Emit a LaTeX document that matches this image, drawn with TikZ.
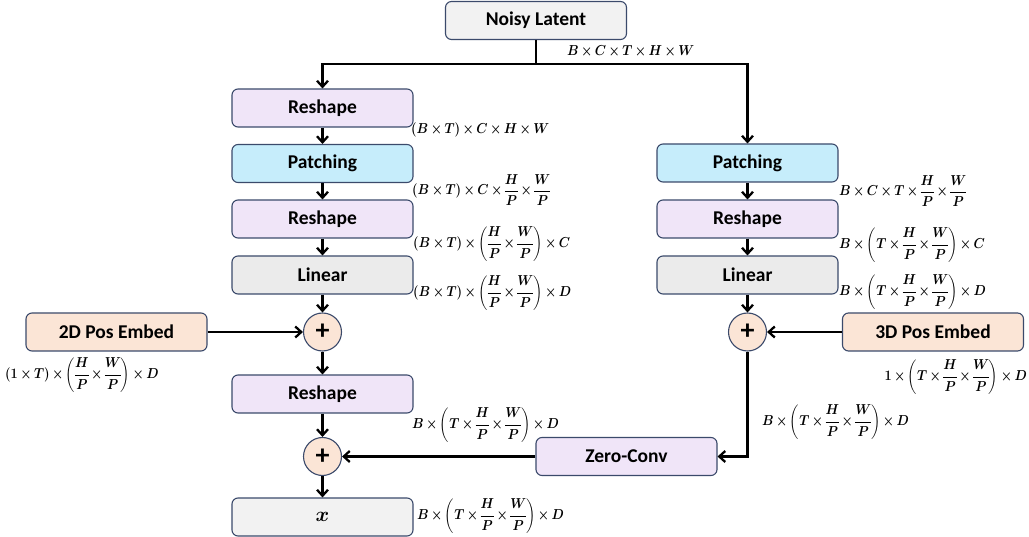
\documentclass[tikz,border=0pt]{standalone}
\usepackage{fontspec}
\setsansfont{Carlito}
\usepackage{amsmath}
\usepackage{graphicx}
\usetikzlibrary{arrows.meta}
\definecolor{bordc}{HTML}{3B4A6B}
\definecolor{lav}{HTML}{F0E5F8}
\definecolor{sky}{HTML}{C6EDFB}
\definecolor{lgray}{HTML}{EBEBEB}
\definecolor{vlgray}{HTML}{F2F2F2}
\definecolor{peach}{HTML}{FBE5D6}
\newcommand{\dimtxt}[1]{\scalebox{0.88}[1]{\medmuskip=3mu plus 1mu minus 1mu\nulldelimiterspace=0pt$#1$}}
\tikzset{
  blk/.style={draw=bordc, line width=1.1pt, rounded corners=6pt, minimum width=181pt, minimum height=38pt, inner sep=0pt,
    font=\sffamily\bfseries\fontsize{19.5}{21}\selectfont},
  plus/.style={draw=bordc, line width=1.1pt, circle, fill=peach, minimum size=38pt, inner sep=0pt,
    font=\sffamily\bfseries\fontsize{28}{28}\selectfont},
  arr/.style={line width=2.3pt, -{Straight Barb[length=6pt,width=11pt,line width=2.3pt]}},
  ln/.style={line width=2.3pt},
  dim/.style={anchor=west, inner sep=0pt, font=\fontsize{14}{16}\selectfont\boldmath}
}
\begin{document}
\begin{tikzpicture}[x=1pt,y=-1pt]
\useasboundingbox (0,0) rectangle (1029,537);
% nodes
\node[blk, fill=vlgray] (nl) at (536,20.5) {Noisy Latent};
\node[blk, fill=lav] (r1) at (322.5,108) {Reshape};
\node[blk, fill=sky] (pl) at (322.5,163.5) {Patching};
\node[blk, fill=lav] (r2) at (322.5,219) {Reshape};
\node[blk, fill=lgray] (ll) at (322.5,275) {Linear};
\node[plus] (pa) at (322.5,332) {+};
\node[blk, fill=peach] (p2) at (116.5,332) {2D Pos Embed};
\node[blk, fill=lav] (r3) at (322.5,394) {Reshape};
\node[plus] (pb) at (322.5,456.5) {+};
\node[blk, fill=vlgray] (xo) at (322.5,517) {$\boldsymbol{x}$};
\node[blk, fill=lav] (zc) at (626.5,456.5) {Zero-Conv};
\node[blk, fill=sky] (pr) at (747.5,163) {Patching};
\node[blk, fill=lav] (rr) at (747.5,219) {Reshape};
\node[blk, fill=lgray] (lr) at (747.5,275) {Linear};
\node[plus] (pc) at (747.5,332) {+};
\node[blk, fill=peach] (p3) at (933,332) {3D Pos Embed};
\coordinate (split) at (536,64);
% connectors
\draw[ln] (nl.south) -- (split);
\draw[arr] (split) -| (r1.north);
\draw[arr] (split) -| (pr.north);
\draw[arr] (r1) -- (pl);
\draw[arr] (pl) -- (r2);
\draw[arr] (r2) -- (ll);
\draw[arr] (ll) -- (pa);
\draw[arr] (p2) -- (pa);
\draw[arr] (pa) -- (r3);
\draw[arr] (r3) -- (pb);
\draw[arr] (pb) -- (xo);
\draw[arr] (pr) -- (rr);
\draw[arr] (rr) -- (lr);
\draw[arr] (lr) -- (pc);
\draw[arr] (p3) -- (pc);
\draw[arr] (pc.south) |- (zc.east);
\draw[arr] (zc) -- (pb);
% dimension labels
\node[dim] (d1) at (567,52) {\dimtxt{B\times C\times T\times H\times W}};
\node[dim] (d2) at (411,130) {\dimtxt{(B\times T)\times C\times H\times W}};
\node[dim] (d3) at (412,190) {\dimtxt{(B\times T)\times C\times \dfrac{H}{P}\times\dfrac{W}{P}}};
\node[dim] (d4) at (413,244) {\dimtxt{(B\times T)\times \left(\dfrac{H}{P}\times\dfrac{W}{P}\right)\times C}};
\node[dim] (d5) at (413,293) {\dimtxt{(B\times T)\times \left(\dfrac{H}{P}\times\dfrac{W}{P}\right)\times D}};
\node[dim] (d6) at (5,375) {\dimtxt{(1\times T)\times \left(\dfrac{H}{P}\times\dfrac{W}{P}\right)\times D}};
\node[dim] (d7) at (839,191) {\dimtxt{B\times C\times T\times \dfrac{H}{P}\times\dfrac{W}{P}}};
\node[dim] (d8) at (839,245) {\dimtxt{B\times \left(T\times\dfrac{H}{P}\times\dfrac{W}{P}\right)\times C}};
\node[dim] (d9) at (839,292) {\dimtxt{B\times \left(T\times\dfrac{H}{P}\times\dfrac{W}{P}\right)\times D}};
\node[dim, anchor=east] (d10) at (1027,377) {\dimtxt{1\times \left(T\times\dfrac{H}{P}\times\dfrac{W}{P}\right)\times D}};
\node[dim] (d11) at (762,422) {\dimtxt{B\times \left(T\times\dfrac{H}{P}\times\dfrac{W}{P}\right)\times D}};
\node[dim] (d12) at (412,425) {\dimtxt{B\times \left(T\times\dfrac{H}{P}\times\dfrac{W}{P}\right)\times D}};
\node[dim] (d13) at (417,516) {\dimtxt{B\times \left(T\times\dfrac{H}{P}\times\dfrac{W}{P}\right)\times D}};
\end{tikzpicture}
\end{document}
